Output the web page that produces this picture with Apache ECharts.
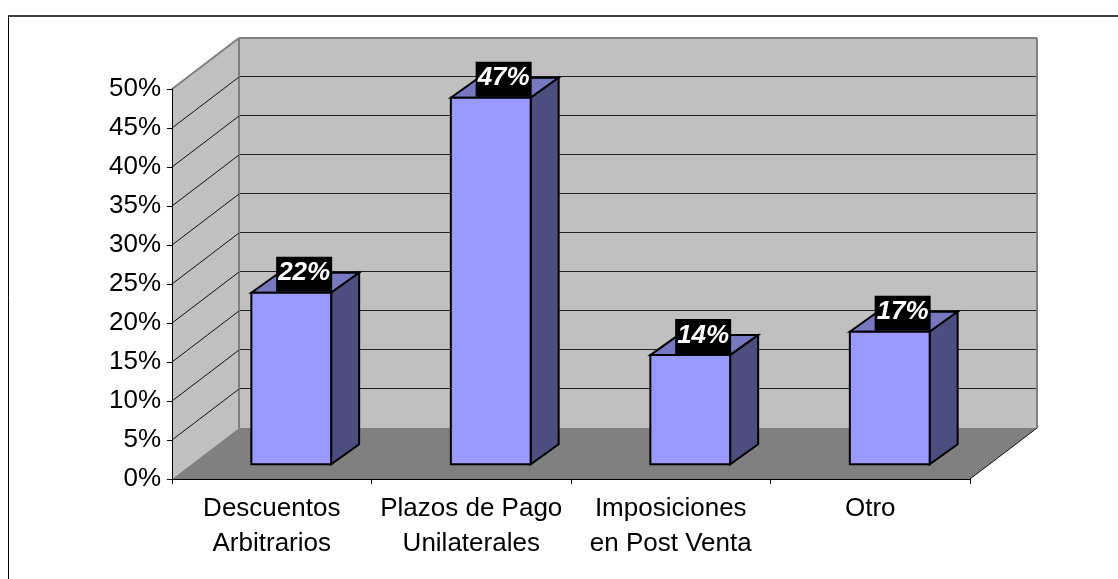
<!DOCTYPE html>
<html>
<head>
<meta charset="utf-8">
<style>html,body{margin:0;padding:0;background:#fff}#chart{width:1118px;height:579px}</style>
<script src="https://cdn.jsdelivr.net/npm/echarts@6/dist/echarts.min.js"></script>
</head>
<body>
<div id="chart"></div>
<script>
// Prácticas reportadas, porcentaje por categoría
var categories = ['Descuentos\nArbitrarios', 'Plazos de Pago\nUnilaterales', 'Imposiciones\nen Post Venta', 'Otro'];
var values = [22, 47, 14, 17];
var yTicks = [0, 5, 10, 15, 20, 25, 30, 35, 40, 45, 50];

var FONT = '"Liberation Sans", Arial, sans-serif';
// Proyección oblicua: desplazamiento de la profundidad total del gráfico
var DEPTH = { x: 67, y: -51 };
// Posición y profundidad de cada columna dentro de esa profundidad
var BAR_FRONT = { x: 19.5, y: -14.7 };
var BAR_DEPTH = { x: 28, y: -20 };
var BAR_RATIO = 0.4;

function poly(points, fill, stroke, lineWidth) {
  return {
    type: 'polygon',
    shape: { points: points },
    style: { fill: fill, stroke: stroke || null, lineWidth: lineWidth || 0, lineJoin: 'miter' }
  };
}
function line(a, b, stroke, lineWidth) {
  return {
    type: 'line',
    shape: { x1: a[0], y1: a[1], x2: b[0], y2: b[1] },
    style: { stroke: stroke, lineWidth: lineWidth }
  };
}
function off(p, d) { return [p[0] + d.x, p[1] + d.y]; }

// Paredes de la caja
function renderBox(params, api) {
  var c = params.coordSys;
  var yMin = api.coord([0, yTicks[0]])[1];
  var yMax = api.coord([0, yTicks[yTicks.length - 1]])[1];
  var l = c.x, r = c.x + c.width;
  var fBL = [l, yMin], fTL = [l, yMax], fBR = [r, yMin];
  var bBL = off(fBL, DEPTH), bTL = off(fTL, DEPTH), bBR = off(fBR, DEPTH);
  var bTR = [bBR[0], bTL[1]];
  return {
    type: 'group',
    children: [
      poly([fBL, fTL, bTL, bBL], '#c0c0c0'),
      poly([bBL, bTL, bTR, bBR], '#c0c0c0'),
      line(fTL, bTL, '#808080', 2),
      line(bTL, bTR, '#808080', 2),
      line(bTL, bBL, '#808080', 2),
      line(bTR, bBR, '#808080', 2)
    ]
  };
}

// Línea de división en pared lateral y pared de fondo
function renderGridLine(params, api) {
  var v = api.value(0);
  var c = params.coordSys;
  var y = api.coord([0, v])[1];
  var a = [c.x, y];
  var b = off(a, DEPTH);
  var e = [c.x + c.width + DEPTH.x, b[1]];
  return {
    type: 'group',
    children: [
      line(a, b, '#111', 1),
      line([b[0] + 1, b[1] - 0.5], [e[0] - 1, e[1] - 0.5], '#222', 1)
    ]
  };
}

// Suelo, por encima de las divisiones
function renderFloor(params, api) {
  var c = params.coordSys;
  var y = api.coord([0, yTicks[0]])[1];
  var fL = [c.x, y], fR = [c.x + c.width, y];
  var bL = off(fL, DEPTH), bR = off(fR, DEPTH);
  return {
    type: 'group',
    children: [
      poly([fL, fR, bR, bL], '#808080'),
      line(fR, bR, '#111', 1)
    ]
  };
}

// Columna con cara frontal, superior y lateral, más su etiqueta
function renderBar(params, api) {
  var idx = api.value(0);
  var val = api.value(1);
  var base = api.coord([idx, 0]);
  var top = api.coord([idx, val]);
  var w = api.size([1, 0])[0] * BAR_RATIO;
  var x0 = base[0] - w / 2 + BAR_FRONT.x;
  var x1 = x0 + w;
  var yb = base[1] + BAR_FRONT.y;
  var yt = top[1] + BAR_FRONT.y;
  var fBL = [x0, yb], fBR = [x1, yb], fTL = [x0, yt], fTR = [x1, yt];
  var boxW = 56, boxH = 35;
  return {
    type: 'group',
    children: [
      poly([fTL, fTR, off(fTR, BAR_DEPTH), off(fTL, BAR_DEPTH)], '#7878c0', '#000', 2),
      poly([fBR, fTR, off(fTR, BAR_DEPTH), off(fBR, BAR_DEPTH)], '#4d4d80', '#000', 2),
      poly([fBL, fBR, fTR, fTL], '#9999ff', '#000', 2),
      {
        type: 'rect',
        shape: { x: x1 - boxW + 1, y: yt - boxH - 1, width: boxW, height: boxH },
        style: { fill: '#000' }
      },
      {
        type: 'text',
        style: {
          text: val + '%',
          x: x1 - boxW / 2 + 1,
          y: yt - boxH / 2 - 2,
          align: 'center',
          verticalAlign: 'middle',
          fill: '#fff',
          font: 'italic bold 26px ' + FONT
        }
      }
    ]
  };
}

var chart = echarts.init(document.getElementById('chart'), null, { renderer: 'canvas' });
chart.setOption({
  animation: false,
  backgroundColor: '#fff',
  graphic: [
    { type: 'line', shape: { x1: 8.5, y1: 16, x2: 8.5, y2: 579 }, style: { stroke: '#000', lineWidth: 1 } },
    { type: 'line', shape: { x1: 8, y1: 16, x2: 1118, y2: 16 }, style: { stroke: '#000', lineWidth: 1.4 } }
  ],
  grid: { left: 172, top: 89, width: 798, height: 390 },
  xAxis: {
    type: 'category',
    data: categories,
    z: 10,
    axisLine: { lineStyle: { color: '#000', width: 1 } },
    axisTick: { show: true, length: 5, alignWithLabel: false, lineStyle: { color: '#000' } },
    axisLabel: { interval: 0, margin: 12, color: '#000', fontFamily: FONT, fontSize: 26, lineHeight: 35 }
  },
  yAxis: {
    type: 'value',
    min: 0,
    max: 50,
    interval: 5,
    z: 10,
    axisLine: { show: true, lineStyle: { color: '#000', width: 1 } },
    axisTick: { show: true, length: 5, lineStyle: { color: '#000' } },
    splitLine: { show: false },
    axisLabel: { formatter: '{value}%', margin: 11, color: '#000', fontFamily: FONT, fontSize: 26 }
  },
  series: [
    { type: 'custom', name: 'Paredes', coordinateSystem: 'cartesian2d', clip: false, z: 1, silent: true,
      renderItem: renderBox, data: [[0]] },
    { type: 'custom', name: 'Divisiones', coordinateSystem: 'cartesian2d', clip: false, z: 2, silent: true,
      renderItem: renderGridLine, encode: { y: 0 }, data: yTicks.slice(1, -1).map(function (t) { return [t]; }) },
    { type: 'custom', name: 'Suelo', coordinateSystem: 'cartesian2d', clip: false, z: 3, silent: true,
      renderItem: renderFloor, data: [[0]] },
    { type: 'custom', name: 'Porcentaje', coordinateSystem: 'cartesian2d', clip: false, z: 4,
      renderItem: renderBar, encode: { x: 0, y: 1 },
      data: values.map(function (v, i) { return [i, v]; }) }
  ]
});
</script>
</body>
</html>
